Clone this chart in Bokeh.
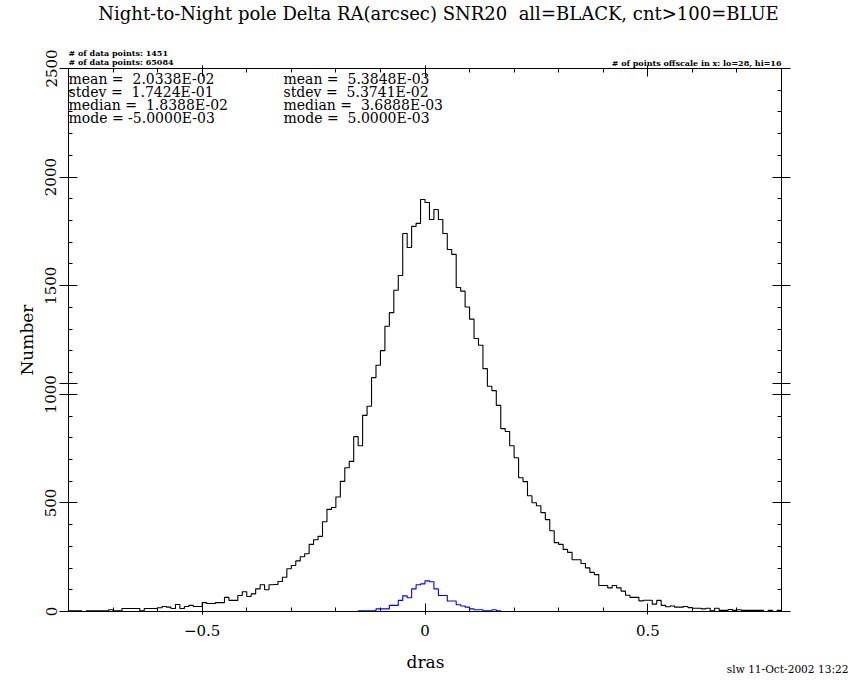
import numpy as np
from bokeh.plotting import figure
from bokeh.models import Range1d, LinearAxis, SingleIntervalTicker, FixedTicker, Label
from bokeh.embed import file_html
from bokeh.resources import INLINE

# ---------------- data ----------------
title_text = "Night-to-Night pole Delta RA(arcsec) SNR20\u00a0 all=BLACK, cnt>100=BLUE"
x_label = "dras"
y_label = "Number"
bin_start = -0.80
bin_width = 0.01

# all points (BLACK), bins -0.80 .. 0.79
black_counts = [
    3, 3, 3, 0, 3, 3, 3, 3, 3, 8,
    3, 3, 14, 14, 14, 14, 3, 14, 14, 14,
    17, 23, 20, 14, 32, 14, 23, 28, 23, 23,
    41, 37, 37, 41, 41, 65, 51, 51, 74, 91,
    69, 81, 104, 123, 100, 123, 124, 138, 158, 197,
    212, 233, 252, 266, 309, 330, 346, 413, 470, 479,
    527, 599, 662, 691, 805, 763, 903, 945, 1077, 1134,
    1201, 1313, 1376, 1479, 1547, 1740, 1676, 1773, 1787, 1897,
    1883, 1805, 1851, 1805, 1740, 1667, 1644, 1492, 1475, 1402,
    1346, 1257, 1226, 1118, 1037, 1017, 949, 842, 829, 763,
    708, 616, 598, 533, 501, 487, 455, 423, 372, 317,
    309, 286, 272, 238, 238, 221, 201, 180, 170, 120,
    120, 109, 120, 109, 94, 75, 65, 65, 49, 52,
    52, 34, 51, 28, 22, 25, 20, 20, 23, 18,
    15, 15, 12, 15, 3, 15, 5, 5, 9, 5,
    8, 5, 5, 5, 5, 5, 0, 5, 0, 5,
]

# cnt>100 (BLUE), non-zero bins -0.15 .. 0.16
blue_core = [
    3, 3, 3, 3, 12, 12, 12, 28, 28, 51,
    72, 63, 104, 123, 127, 141, 137, 104, 74, 74,
    48, 48, 31, 25, 20, 12, 8, 8, 3, 3,
    8, 3,
]
blue_zeros_before = [0] * 65
blue_zeros_after = [0] * 63
blue_counts = blue_zeros_before + blue_core + blue_zeros_after

y_major_ticks = [0, 500, 1000, 1500, 2000, 2500]
arrow_level = 1050          # level of the off-scale arrows on both y axes

stats_all = ["mean =\u00a0 2.0338E-02", "stdev =\u00a0 1.7424E-01",
             "median =\u00a0 1.8388E-02", "mode = -5.0000E-03"]
stats_blue = ["mean =\u00a0 5.3848E-03", "stdev =\u00a0 5.3741E-02",
              "median =\u00a0 3.6888E-03", "mode =\u00a0 5.0000E-03"]
npts_blue = "# of data points: 1451"
npts_all = "# of data points: 65084"
offscale_text = "# of points offscale in x: lo=28, hi=16"
footer_text = "slw 11-Oct-2002 13:22"

# ---------------- layout ----------------
X_LO, X_HI = -0.8, 0.8
Y_LO, Y_HI = 0, 2500
W, H = 850, 680
BL, BR, BT, BB = 68, 69, 68, 69
FRAME_L = BL
FRAME_R = W - BR
FRAME_T = BT
FRAME_B = H - BB

def px2x(px):
    return X_LO + (px - FRAME_L) / (FRAME_R - FRAME_L) * (X_HI - X_LO)

def px2y(py):
    return Y_LO + (FRAME_B - py) / (FRAME_B - FRAME_T) * (Y_HI - Y_LO)

FONT = "DejaVu Serif"

p = figure(width=W, height=H, x_range=Range1d(X_LO, X_HI), y_range=Range1d(Y_LO, Y_HI),
           output_backend="svg", toolbar_location=None,
           min_border_left=BL, min_border_right=BR, min_border_top=BT, min_border_bottom=BB,
           x_axis_type=None, y_axis_type=None)
p.xgrid.grid_line_color = None
p.ygrid.grid_line_color = None
p.outline_line_color = "black"
p.background_fill_color = "white"
p.border_fill_color = "white"

def make_axis(kind, labels):
    if kind == "x":
        tk = SingleIntervalTicker(interval=0.5, num_minor_ticks=5)
    else:
        tk = FixedTicker(ticks=sorted(y_major_ticks + [arrow_level]),
                         minor_ticks=list(range(Y_LO, Y_HI + 1, 100)))
    ax = LinearAxis(ticker=tk)
    ax.axis_line_color = "black"
    ax.major_tick_line_color = "black"
    ax.minor_tick_line_color = "black"
    ax.major_tick_in = 8 if kind == "x" else 9
    ax.major_tick_out = 3 if kind == "x" else 9
    ax.minor_tick_in = 4
    ax.minor_tick_out = 0
    if labels:
        ax.major_label_text_font = FONT
        ax.major_label_text_font_size = "15px"
        ax.major_label_text_color = "black"
    else:
        ax.major_label_text_color = None
        ax.major_label_standoff = 0
    if kind == "y":
        ax.major_label_overrides = {arrow_level: ""}
    return ax

xb = make_axis("x", True)
xb.major_label_standoff = 10
p.add_layout(xb, "below")

yl = make_axis("y", True)
yl.major_label_orientation = "vertical"
yl.major_label_standoff = 3
yl.axis_label = y_label
yl.axis_label_text_font = FONT
yl.axis_label_text_font_size = "17px"
yl.axis_label_text_font_style = "normal"
yl.axis_label_text_color = "black"
yl.axis_label_standoff = 6
p.add_layout(yl, "left")

p.add_layout(make_axis("x", False), "above")
p.add_layout(make_axis("y", False), "right")

edges = bin_start + bin_width * np.arange(len(black_counts) + 1)
p.step(edges, list(black_counts) + [black_counts[-1]], mode="after", line_color="black", line_width=1.1)
p.step(edges, list(blue_counts) + [blue_counts[-1]], mode="after", line_color="#0000ff", line_width=1.1)

def add_label(text, px, py, size, align="left", style="normal", place="center"):
    lab = Label(x=px2x(px), y=px2y(py), text=text, text_font=FONT,
                text_font_size=size, text_align=align, text_baseline="middle",
                text_font_style=style, text_color="black")
    if place == "center":
        p.add_layout(lab)
    else:
        p.add_layout(lab, place)

add_label(title_text, 438, 13, "18px", align="center", place="above")
add_label(npts_blue, 68, 52, "8px", style="bold", place="above")
add_label(npts_all, 68, 61, "8px", style="bold", place="above")
add_label(offscale_text, 781, 62, "8px", align="right", style="bold", place="above")
for i, s in enumerate(stats_all):
    add_label(s, 68, 78 + 13 * i, "14px")
for i, s in enumerate(stats_blue):
    add_label(s, 283, 78 + 13 * i, "14px")
add_label(x_label, 425, 661, "17px", align="center", place="below")
add_label(footer_text, 848, 668, "10.6px", align="right", place="below")

open("out.html", "w").write(file_html(p, INLINE))
